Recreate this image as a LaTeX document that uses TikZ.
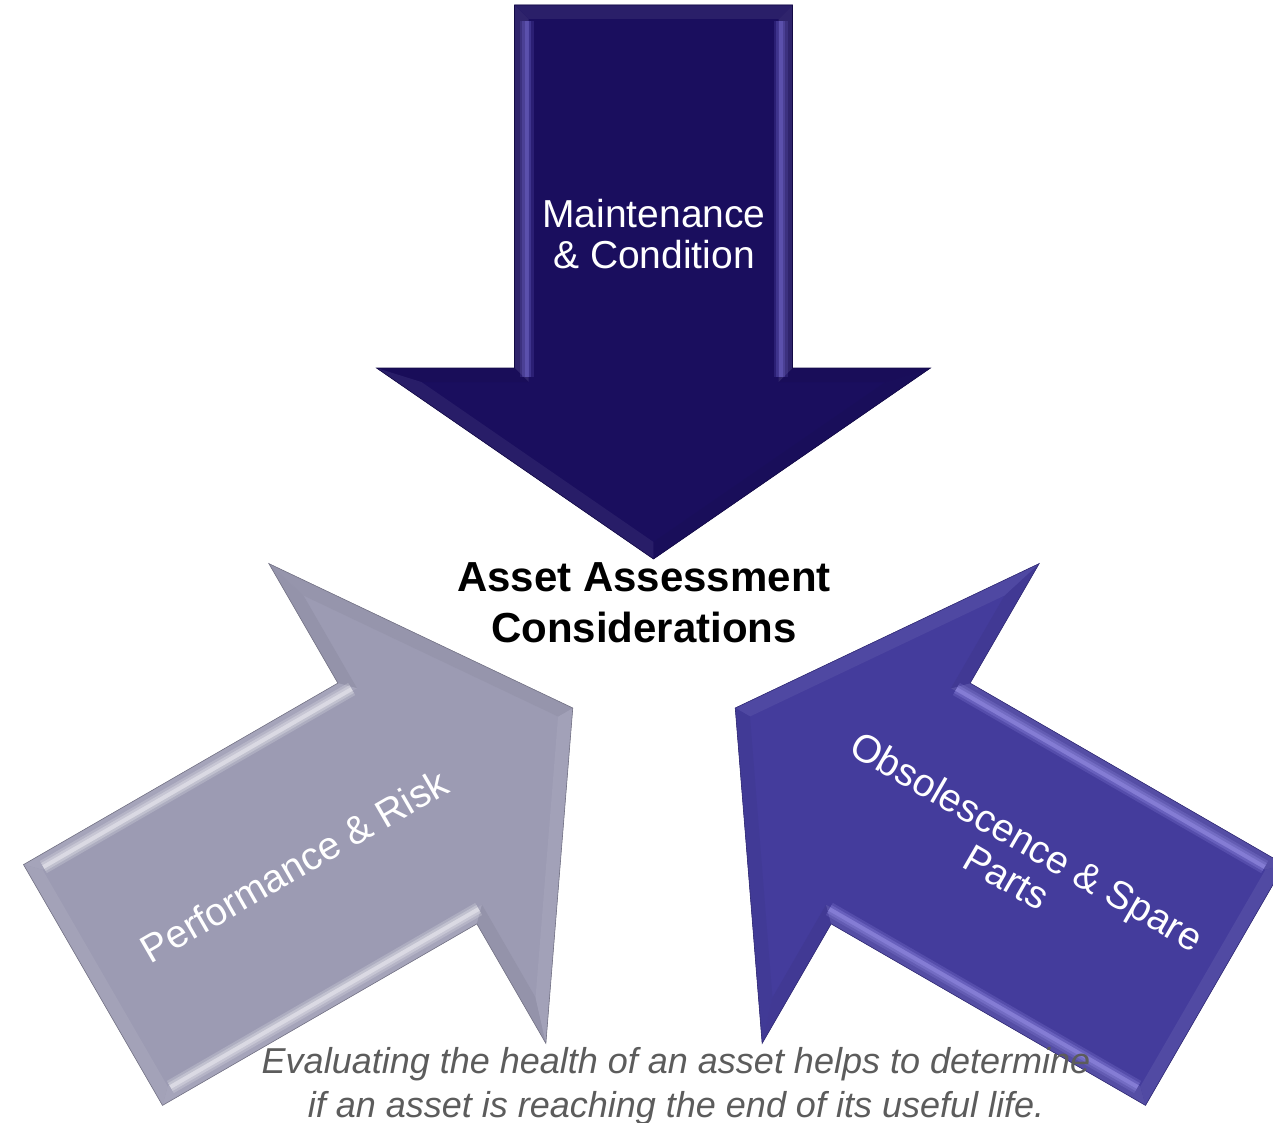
\documentclass[tikz,border=0pt]{standalone}
\usepackage{fontspec}
\setmainfont{Liberation Sans}
\definecolor{navyarrow}{HTML}{1A0E5E}
\definecolor{grayarrow}{HTML}{9C9BB3}
\definecolor{violetarrow}{HTML}{443C9C}
\definecolor{navyhl}{HTML}{7A70D8}
\definecolor{grayhl}{HTML}{FFFFFF}
\definecolor{violethl}{HTML}{A49CF4}
\definecolor{capgray}{HTML}{5C5C5C}
\tikzset{
  arrowlabel/.style={text=white, align=center, inner sep=0pt, font=\fontsize{39}{41}\selectfont},
  titlelabel/.style={text=black, align=center, inner sep=0pt, font=\fontsize{42}{51}\selectfont\bfseries},
  captionlabel/.style={text=capgray, align=center, inner sep=0pt, font=\fontsize{36}{44}\selectfont\itshape},
}
% #1,#2 tail centre; #3 angle; #4 face colour; #5 highlight colour; #6 name
\newcommand\bevelarrow[6]{%
\begin{scope}[shift={(#1,#2)},rotate=#3]
  \fill[#4] (0,-139) -- (363,-139) -- (363,-277) -- (554,0) -- (363,277) -- (363,139) -- (0,139) -- cycle;
  \fill[#4!91!white] (0,-139) -- (363,-139) -- (377,-125) -- (14,-125) -- cycle;
  \fill[#4!95!black] (363,-139) -- (363,-277) -- (377,-232.1) -- (377,-125) -- cycle;
  \fill[#4!94!white] (363,-277) -- (554,0) -- (537,0) -- (377,-232.1) -- cycle;
  \fill[#4!96!black] (554,0) -- (363,277) -- (377,232.1) -- (537,0) -- cycle;
  \fill[#4!95!black] (363,277) -- (363,139) -- (377,125) -- (377,232.1) -- cycle;
  \fill[#4!91!white] (363,139) -- (0,139) -- (14,125) -- (377,125) -- cycle;
  \fill[#4!93!white] (0,139) -- (0,-139) -- (14,-125) -- (14,125) -- cycle;
  \foreach \w/\o in {14/0.18,9/0.25,4/0.35}{
    \draw[#5, line width=\w, opacity=\o] (16,-127) -- (372,-127);
    \draw[#5, line width=\w, opacity=\o] (16,127) -- (372,127);
  }
  \draw[#4!75!black, line width=0.6, line join=miter]
    (0,-139) -- (363,-139) -- (363,-277) -- (554,0) -- (363,277) -- (363,139) -- (0,139) -- cycle;
  \coordinate (#6) at (277,0);
\end{scope}}
\begin{document}
\begin{tikzpicture}[x=1pt,y=1pt]
  \useasboundingbox (0,0) rectangle (1273,-1123);
  \bevelarrow{653.5}{-5}{-90}{navyarrow}{navyhl}{mcarrow}
  \bevelarrow{93}{-985}{30}{grayarrow}{grayhl}{prarrow}
  \bevelarrow{1215}{-985}{150}{violetarrow}{violethl}{osarrow}
  \node[arrowlabel] (mc) at (654,-234) {Maintenance\\\& Condition};
  \node[arrowlabel, rotate=30] (pr) at (294,-866) {Performance \& Risk};
  \node[arrowlabel, rotate=-30] (os) at (1017,-859) {Obsolescence \& Spare\\Parts};
  \node[titlelabel] (aac) at (644,-603) {Asset Assessment\\Considerations};
  \node[captionlabel] (cap) at (676,-1086) {Evaluating the health of an asset helps to determine\\if an asset is reaching the end of its useful life.};
\end{tikzpicture}
\end{document}
